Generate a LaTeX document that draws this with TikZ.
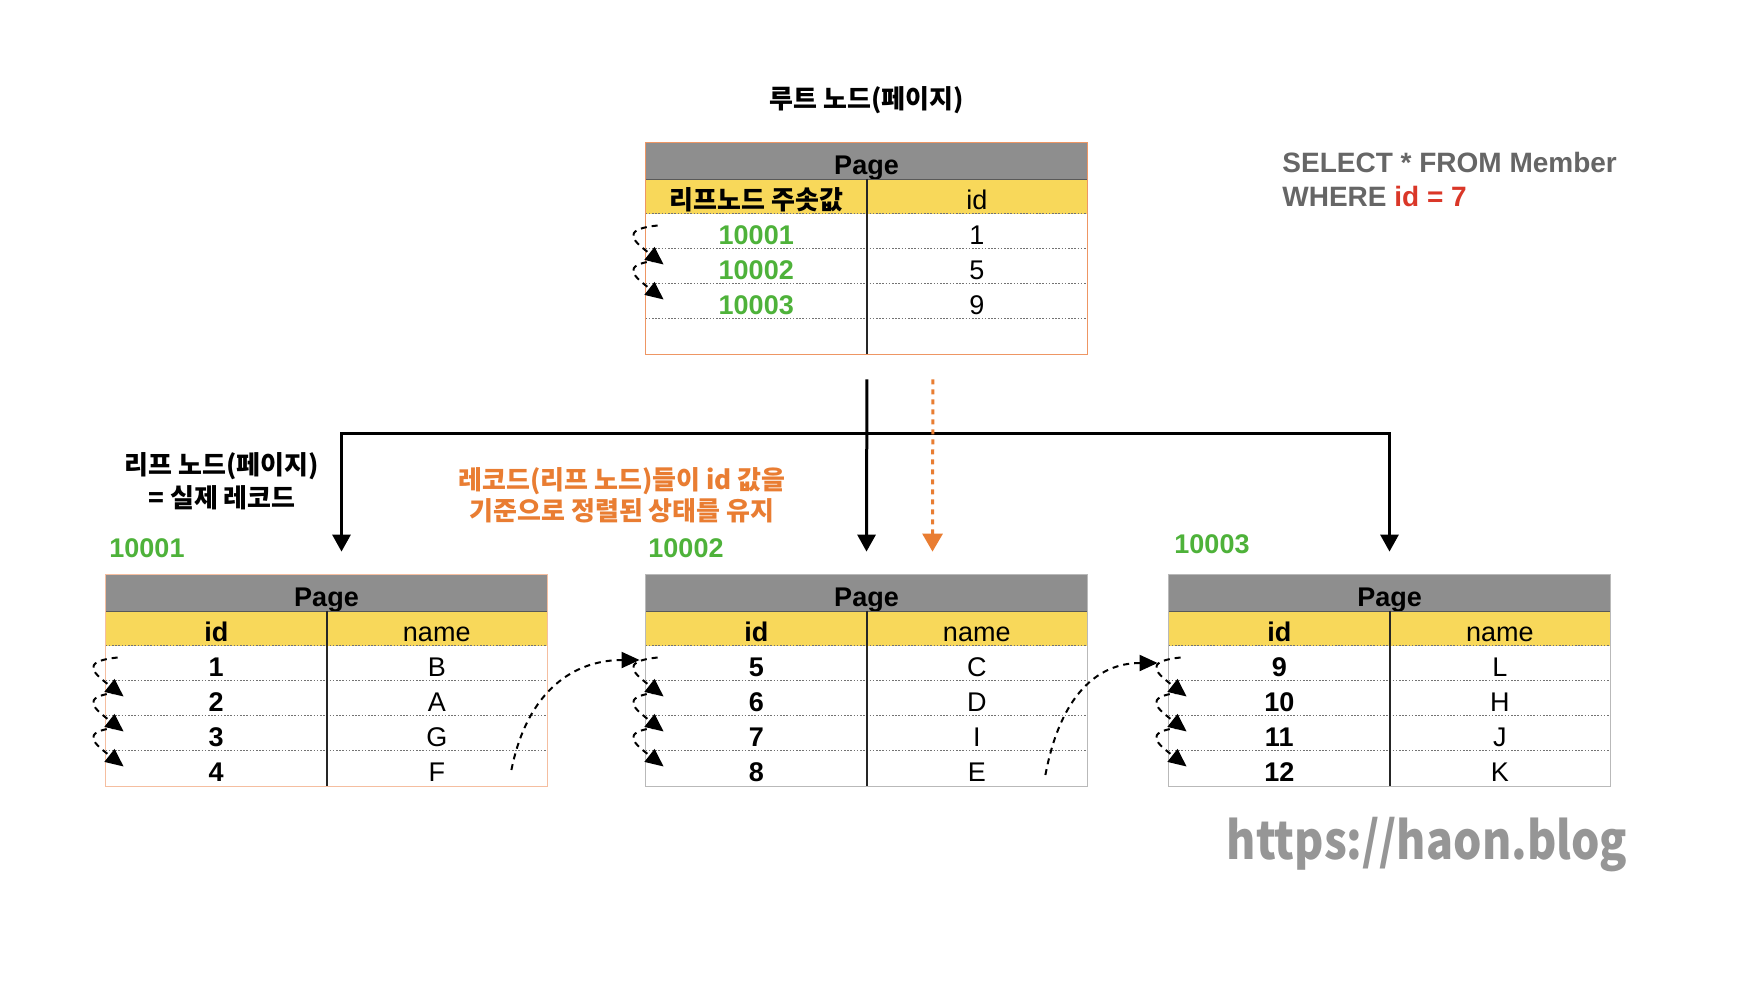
\documentclass[tikz,border=0pt]{standalone}
\usepackage{fontspec}
\setmainfont{Liberation Sans}
\newfontfamily\kofont{Noto Sans CJK KR}
\usetikzlibrary{arrows.meta}
\definecolor{pagegray}{RGB}{142,142,142}
\definecolor{headyellow}{RGB}{248,216,90}
\definecolor{keygreen}{RGB}{78,178,58}
\definecolor{noteorange}{RGB}{233,125,50}
\definecolor{sqlgray}{RGB}{102,102,102}
\definecolor{sqlred}{RGB}{218,55,40}
\definecolor{markgray}{RGB}{150,150,150}
\definecolor{edgeorange}{RGB}{238,150,100}
\definecolor{edgepeach}{RGB}{245,190,160}
\definecolor{edgegray}{RGB}{185,185,185}

\tikzset{
  cell/.style={inner sep=0pt, minimum width=110.25pt, minimum height=17.5pt,
    text height=13pt, text depth=0pt, font=\fontsize{13.5}{16}\selectfont},
  keycell/.style={cell, font=\fontsize{13.5}{16}\selectfont\bfseries},
  colhead/.style={cell, fill=headyellow},
  pagehead/.style={cell, minimum width=220.5pt, minimum height=18pt, fill=pagegray,
    font=\fontsize{13.5}{16}\selectfont\bfseries},
  rowline/.style={black!55, line width=0.5pt, dash pattern=on 0.8pt off 0.8pt},
  colline/.style={black!85, line width=0.9pt},
  headline/.style={black!65, line width=0.9pt},
  treearrow/.style={-{Triangle[length=8.5pt,width=9pt]}, line width=1.5pt},
  sortarrow/.style={-{Triangle[length=9pt,width=10pt]}, line width=1.5pt,
    noteorange, dash pattern=on 2.5pt off 2.5pt},
  scanarrow/.style={-{Triangle[length=9pt,width=8pt]}, line width=1pt,
    dash pattern=on 3pt off 2.5pt},
  kotitle/.style={font=\kofont\bfseries\fontsize{13}{16.5}\selectfont, align=center},
  keylabel/.style={keygreen, font=\fontsize{13.5}{16}\selectfont\bfseries},
  sqltext/.style={sqlgray, align=left, inner sep=0pt,
    font=\fontsize{14}{17}\selectfont\bfseries}
}

\begin{document}
\begin{tikzpicture}[x=0.5pt, y=-0.5pt]
\useasboundingbox (0,0) rectangle (1750,982);
\fill[white] (0,0) rectangle (1750,982);

% --- Root node (page) ---
\node[kotitle] (roottitle) at (867,100) {루트 노드(페이지)};
\node[pagehead] (rhead) at (866.5,161) {Page};
\node[colhead, font=\kofont\bfseries\fontsize{13}{16}\selectfont] (rkey) at (756.25,196.5) {리프노드 주솟값};
\node[colhead] (rid) at (976.75,196.5) {id};
\foreach \k/\addr/\val in {1/10001/1, 2/10002/5, 3/10003/9, 4//}{
  \node[keycell, keygreen] (rk\k) at (756.25,{196.5+35*\k}) {\addr};
  \node[cell] (ri\k) at (976.75,{196.5+35*\k}) {\val};
}
\draw[headline] (rhead.south west) -- (rhead.south east);
\foreach \k in {1,...,4}
  \draw[rowline] (rk\k.north west) -- (ri\k.north east);
\draw[colline] (rkey.north east) -- (rk4.south east);
\draw[edgeorange, line width=0.8pt] (rhead.north west) rectangle (ri4.south east);
\foreach \a/\b in {1/2, 2/3}
  \draw[scanarrow] ([shift={(12,-6)}]rk\a.west) .. controls +(-40,4) and +(-28,-22) .. ([shift={(18,-2)}]rk\b.west);

% SQL query
\node[sqltext, anchor=west] (sql) at (1282,179) {SELECT * FROM Member\\WHERE \textcolor{sqlred}{id = 7}};

% --- Leaf page 10001 ---
\node[kotitle] (leaftitle) at (222,481) {리프 노드(페이지)\\= 실제 레코드};
\node[keylabel] (key1) at (147,548) {10001};
\node[pagehead] (p1head) at (326.5,593) {Page};
\node[colhead, font=\fontsize{13.5}{16}\selectfont\bfseries] (p1id) at (216.25,628.5) {id};
\node[colhead] (p1name) at (436.75,628.5) {name};
\foreach \k/\val/\name in {1/1/B, 2/2/A, 3/3/G, 4/4/F}{
  \node[keycell] (p1i\k) at (216.25,{628.5+35*\k}) {\val};
  \node[cell] (p1n\k) at (436.75,{628.5+35*\k}) {\name};
}
\draw[headline] (p1head.south west) -- (p1head.south east);
\foreach \k in {1,...,4}
  \draw[rowline] (p1i\k.north west) -- (p1n\k.north east);
\draw[colline] (p1id.north east) -- (p1i4.south east);
\draw[edgepeach, line width=0.8pt] (p1head.north west) rectangle (p1n4.south east);
\foreach \a/\b in {1/2, 2/3, 3/4}
  \draw[scanarrow] ([shift={(12,-6)}]p1i\a.west) .. controls +(-40,4) and +(-28,-22) .. ([shift={(18,-2)}]p1i\b.west);

% --- Leaf page 10002 ---
\node[keylabel] (key2) at (686,548) {10002};
\node[pagehead] (p2head) at (866.5,593) {Page};
\node[colhead, font=\fontsize{13.5}{16}\selectfont\bfseries] (p2id) at (756.25,628.5) {id};
\node[colhead] (p2name) at (976.75,628.5) {name};
\foreach \k/\val/\name in {1/5/C, 2/6/D, 3/7/I, 4/8/E}{
  \node[keycell] (p2i\k) at (756.25,{628.5+35*\k}) {\val};
  \node[cell] (p2n\k) at (976.75,{628.5+35*\k}) {\name};
}
\draw[headline] (p2head.south west) -- (p2head.south east);
\foreach \k in {1,...,4}
  \draw[rowline] (p2i\k.north west) -- (p2n\k.north east);
\draw[colline] (p2id.north east) -- (p2i4.south east);
\draw[edgegray, line width=0.8pt] (p2head.north west) rectangle (p2n4.south east);
\foreach \a/\b in {1/2, 2/3, 3/4}
  \draw[scanarrow] ([shift={(12,-6)}]p2i\a.west) .. controls +(-40,4) and +(-28,-22) .. ([shift={(18,-2)}]p2i\b.west);

% --- Leaf page 10003 ---
\node[keylabel] (key3) at (1212,544) {10003};
\node[pagehead] (p3head) at (1389.5,593) {Page};
\node[colhead, font=\fontsize{13.5}{16}\selectfont\bfseries] (p3id) at (1279.25,628.5) {id};
\node[colhead] (p3name) at (1499.75,628.5) {name};
\foreach \k/\val/\name in {1/9/L, 2/10/H, 3/11/J, 4/12/K}{
  \node[keycell] (p3i\k) at (1279.25,{628.5+35*\k}) {\val};
  \node[cell] (p3n\k) at (1499.75,{628.5+35*\k}) {\name};
}
\draw[headline] (p3head.south west) -- (p3head.south east);
\foreach \k in {1,...,4}
  \draw[rowline] (p3i\k.north west) -- (p3n\k.north east);
\draw[colline] (p3id.north east) -- (p3i4.south east);
\draw[edgegray, line width=0.8pt] (p3head.north west) rectangle (p3n4.south east);
\foreach \a/\b in {1/2, 2/3, 3/4}
  \draw[scanarrow] ([shift={(12,-6)}]p3i\a.west) .. controls +(-40,4) and +(-28,-22) .. ([shift={(18,-2)}]p3i\b.west);

% links between leaf pages
\draw[scanarrow] ([shift={(-36,1.5)}]p1n4.east) .. controls +(16,-80) and +(-65,0) .. ([shift={(-6,-3.5)}]p2i1.west);
\draw[scanarrow] ([shift={(-42,6.5)}]p2n4.east) .. controls +(15,-80) and +(-60,0) .. ([shift={(-11,-0.5)}]p3i1.west);

% --- Tree arrows ---
\coordinate (fork) at ([yshift=-39.5pt]rk4.south east);
\draw[treearrow] ([yshift=-12.5pt]rk4.south east) -- ([yshift=11.5pt]p2head.north);
\draw[treearrow] (fork) -| ([xshift=7.5pt,yshift=11.5pt]p1head.north);
\draw[treearrow] (fork) -| ([yshift=11.5pt]p3head.north);
\draw[sortarrow] ([xshift=33pt,yshift=-12.5pt]rk4.south east) -- ([xshift=33pt,yshift=11.5pt]p2head.north);
\node[kotitle, noteorange, font=\kofont\bfseries\fontsize{13}{15.5}\selectfont] (sortnote) at (622,495) {레코드(리프 노드)들이 id 값을\\기준으로 정렬된 상태를 유지};

% watermark
\node[markgray, inner sep=0pt, font=\kofont\bfseries\fontsize{26}{30}\selectfont] (blog) at (1427,845) {\scalebox{0.86}[1]{https://haon.blog}};

\end{tikzpicture}
\end{document}
